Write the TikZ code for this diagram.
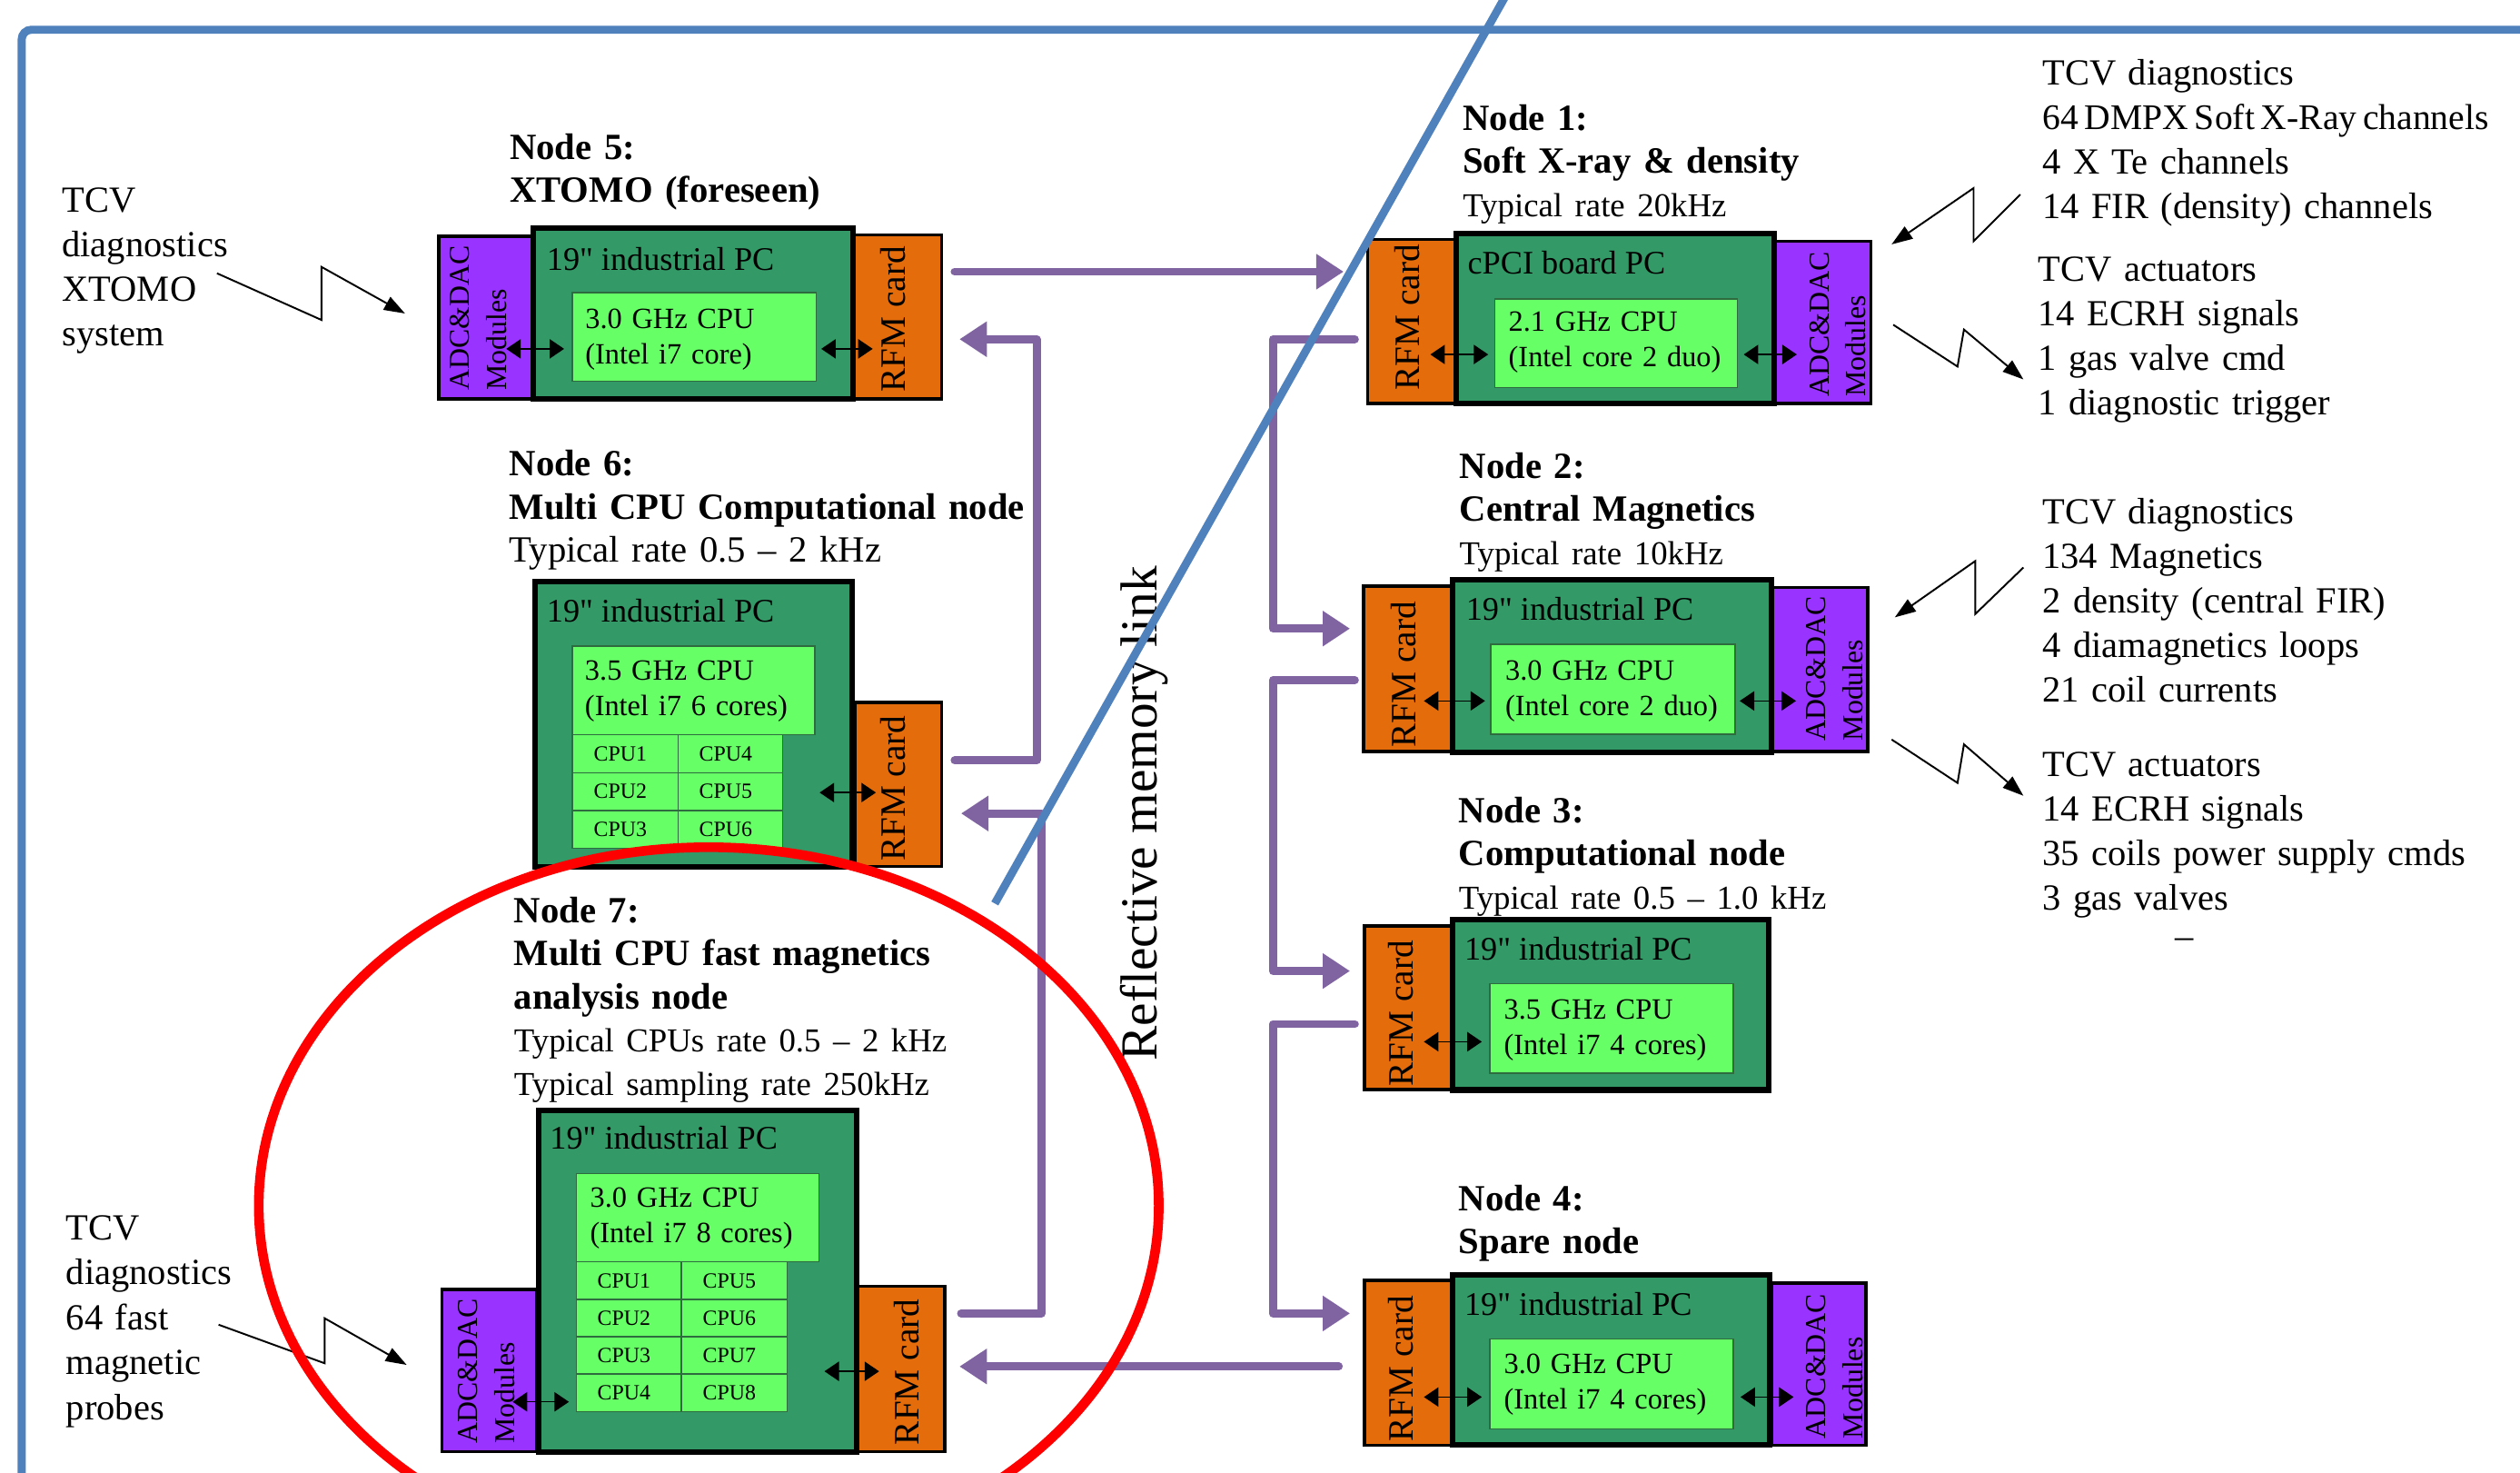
\documentclass[tikz,border=0pt]{standalone}
\usepackage{fontspec}
\setmainfont{Liberation Serif}[Ligatures=TeXOff]
\usetikzlibrary{arrows.meta,fit}
\definecolor{adcP}{HTML}{9933FF}
\definecolor{pcG}{HTML}{339966}
\definecolor{cpuG}{HTML}{66FF66}
\definecolor{rfmO}{HTML}{E46C0A}
\definecolor{busP}{HTML}{8064A2}
\definecolor{frameB}{HTML}{4F81BD}
\definecolor{cpuLine}{HTML}{2E6B3E}
\newcommand\smallfont{\fontsize{20.8}{26.8}\selectfont}
\begin{document}
\begin{tikzpicture}[x=1pt,y=-1pt,
  bx/.style={inner sep=0pt,outer sep=0pt},
  adc/.style={bx,draw=black,line width=2pt,fill=adcP},
  rfm/.style={bx,draw=black,line width=2pt,fill=rfmO},
  pc/.style={bx,draw=black,line width=3.4pt,fill=pcG},
  cpu/.style={bx,draw=cpuLine,line width=0.8pt,fill=cpuG},
  body/.style={inner sep=0pt,anchor=base west,align=left,text width=400pt,font=\fontsize{22.9}{27.7}\selectfont},
  ttl/.style={body,font=\fontsize{23}{26.8}\selectfont},
  pclbl/.style={inner sep=0pt,anchor=base west,font=\fontsize{20.5}{24}\selectfont},
  cpulbl/.style={inner sep=0pt,anchor=base west,align=left,text width=150pt,font=\fontsize{18.3}{22}\selectfont},
  celllbl/.style={inner sep=0pt,font=\fontsize{13.5}{16}\selectfont},
  rfmlbl/.style={inner sep=0pt,anchor=base west,rotate=90,font=\fontsize{22.2}{26}\selectfont},
  adclbl/.style={inner sep=0pt,anchor=base west,rotate=90,align=left,text width=100pt,font=\fontsize{18}{23}\selectfont},
  bus/.style={draw=busP,line width=5pt,line cap=round,line join=round},
  bush/.style={bus,-{Triangle[length=17pt,width=21pt]}},
  dbl/.style={black,line width=0.8pt,{Triangle[length=9pt,width=12pt]}-{Triangle[length=9pt,width=12pt]}},
  zig/.style={black,line width=1.1pt,-{Triangle[length=13pt,width=9pt]}}
]
\useasboundingbox (0,0) rectangle (1568,916);
\clip (0,0) rectangle (1568,916);
\fill[white] (0,0) rectangle (1568,916);

% ---------- boxes: side cards ----------
\node[adc, fit={(273,147) (332,248)}] (a5) {};
\node[rfm, fit={(531,146) (586,248)}] (r5) {};
\node[rfm, fit={(532,437) (586,539)}] (r6) {};
\node[adc, fit={(275,802) (334,903)}] (a7) {};
\node[rfm, fit={(534,800) (588,903)}] (r7) {};
\node[rfm, fit={(851,149) (906,251)}] (r1) {};
\node[adc, fit={(1104,150) (1164,251)}] (a1) {};
\node[rfm, fit={(848.5,364.6) (904,467.5)}] (r2) {};
\node[adc, fit={(1102,365.5) (1162,467.5)}] (a2) {};
\node[rfm, fit={(849,576) (904,677.7)}] (r3) {};
\node[rfm, fit={(849,796.5) (904,899)}] (r4) {};
\node[adc, fit={(1102.5,798) (1161,899)}] (a4) {};

% ---------- PC boxes ----------
\node[pc, fit={(332,142) (531,248)}] (g5) {};
\node[pc, fit={(333,362) (530,539)}] (g6) {};
\node[pc, fit={(335,691) (533,903)}] (g7) {};
\node[pc, fit={(906,145) (1104,251)}] (g1) {};
\node[pc, fit={(904,360.6) (1102,468)}] (g2) {};
\node[pc, fit={(904,572) (1100.6,678)}] (g3) {};
\node[pc, fit={(904,793) (1101,899)}] (g4) {};

% ---------- CPU boxes ----------
\node[cpu, fit={(356,182) (508,237)}] (c5) {};
\node[cpu, fit={(356,402) (507,457)}] (c6) {};
\node[cpu, fit={(358.5,730) (509.5,785)}] (c7) {};
\node[cpu, fit={(930,186) (1081,241)}] (c1) {};
\node[cpu, fit={(927.6,400.8) (1079.6,456.7)}] (c2) {};
\node[cpu, fit={(927,612) (1078.5,667.6)}] (c3) {};
\node[cpu, fit={(927,833) (1078.5,889)}] (c4) {};

% CPU grids
\foreach \r/\la/\lb in {0/CPU1/CPU4,1/CPU2/CPU5,2/CPU3/CPU6}{
  \node[cpu, fit={(356,{457+23.6*\r}) (422,{480.6+23.6*\r})}] (k6a\r) {};
  \node[cpu, fit={(422,{457+23.6*\r}) (487,{480.6+23.6*\r})}] (k6b\r) {};
  \node[celllbl] at ([xshift=-3pt]k6a\r.center) {\la};
  \node[celllbl] at ([xshift=-3pt]k6b\r.center) {\lb};
}
\foreach \r/\la/\lb in {0/CPU1/CPU5,1/CPU2/CPU6,2/CPU3/CPU7,3/CPU4/CPU8}{
  \node[cpu, fit={(358.5,{785+23.25*\r}) (424,{808.25+23.25*\r})}] (k7a\r) {};
  \node[cpu, fit={(424,{785+23.25*\r}) (489.7,{808.25+23.25*\r})}] (k7b\r) {};
  \node[celllbl] at ([xshift=-3pt]k7a\r.center) {\la};
  \node[celllbl] at ([xshift=-3pt]k7b\r.center) {\lb};
}

% ---------- labels in boxes ----------
\node[pclbl] (p5) at (340,168) {19" industrial PC};
\node[pclbl] (p6) at (340,387) {19" industrial PC};
\node[pclbl] (p7) at (342,715) {19" industrial PC};
\node[pclbl] (p1) at (913,170.6) {cPCI board PC};
\node[pclbl] (p2) at (912,386) {19" industrial PC};
\node[pclbl] (p3) at (911,597) {19" industrial PC};
\node[pclbl] (p4) at (911,818) {19" industrial PC};

\node[cpulbl] (u5) at (364,204.5) {3.0 GHz CPU\\(Intel i7 core)};
\node[cpulbl] (u6) at (363.8,423) {3.5 GHz CPU\\(Intel i7 6 cores)};
\node[cpulbl] (u7) at (367,751) {3.0 GHz CPU\\(Intel i7 8 cores)};
\node[cpulbl] (u1) at (938.5,206) {2.1 GHz CPU\\(Intel core 2 duo)};
\node[cpulbl] (u2) at (936.5,423) {3.0 GHz CPU\\(Intel core 2 duo)};
\node[cpulbl] (u3) at (935.6,634) {3.5 GHz CPU\\(Intel i7 4 cores)};
\node[cpulbl] (u4) at (935.6,854.4) {3.0 GHz CPU\\(Intel i7 4 cores)};

\node[rfmlbl] (rl5) at (563,244) {RFM card};
\node[rfmlbl] (rl6) at (563,536) {RFM card};
\node[rfmlbl] (rl7) at (572,899) {RFM card};
\node[rfmlbl] (rl1) at (883,243) {RFM card};
\node[rfmlbl] (rl2) at (881,465) {RFM card};
\node[rfmlbl] (rl3) at (879,676) {RFM card};
\node[rfmlbl] (rl4) at (879,897) {RFM card};

\node[adclbl] (al5) at (292,243) {ADC\&DAC\\Modules};
\node[adclbl] (al7) at (297,898) {ADC\&DAC\\Modules};
\node[adclbl] (al1) at (1138,247) {ADC\&DAC\\Modules};
\node[adclbl] (al2) at (1136,461) {ADC\&DAC\\Modules};
\node[adclbl] (al4) at (1136,895) {ADC\&DAC\\Modules};

% ---------- internal double arrows ----------
\coordinate (d5a) at (315,217);   \coordinate (d5b) at (351,217);
\coordinate (d5c) at (511,217);   \coordinate (d5d) at (543,217);
\coordinate (d1a) at (890,220.5); \coordinate (d1b) at (926,220.5);
\coordinate (d1c) at (1085,220.5);\coordinate (d1d) at (1118,220.5);
\coordinate (d6a) at (510,493);   \coordinate (d6b) at (545,493);
\coordinate (d7a) at (319,872);   \coordinate (d7b) at (354,872);
\coordinate (d7c) at (513,853);   \coordinate (d7d) at (547,853);
\coordinate (d2a) at (886,436);   \coordinate (d2b) at (924,436);
\coordinate (d2c) at (1082.5,436);\coordinate (d2d) at (1117.5,436);
\coordinate (d3a) at (886,648);   \coordinate (d3b) at (922,648);
\coordinate (d4a) at (886,869);   \coordinate (d4b) at (922,869);
\coordinate (d4c) at (1083,869);  \coordinate (d4d) at (1116,869);
\foreach \p/\q in {d5a/d5b,d5c/d5d,d1a/d1b,d1c/d1d,d6a/d6b,d7a/d7b,d7c/d7d,d2a/d2b,d2c/d2d,d3a/d3b,d4a/d4b,d4c/d4d}
  \draw[dbl] (\p) -- (\q);

% ---------- texts ----------
\node[ttl] (t5) at (317,99) {\bfseries Node 5:\\XTOMO (foreseen)};
\node[body] (x5) at (38.5,132) {TCV\\diagnostics\\XTOMO\\system};
\node[ttl] (t1) at (910,81) {{\bfseries Node 1:\\Soft X-ray \& density}\\{\smallfont Typical rate 20kHz}};
\node[body] (s1) at (1270.7,52.8) {TCV diagnostics\\{\fontsize{22.4}{27.7}\selectfont\spaceskip=0.17em\relax 64 DMPX Soft X-Ray channels}\\4 X Te channels\\14 FIR (density) channels};
\node[body] (s1b) at (1268,175) {TCV actuators\\14 ECRH signals\\1 gas valve cmd\\1 diagnostic trigger};
\node[ttl] (t6) at (316.7,296) {{\bfseries Node 6:\\Multi CPU Computational node}\\Typical rate 0.5 – 2 kHz};
\node[ttl] (t7) at (319.7,574) {{\bfseries Node 7:\\Multi CPU fast magnetics\\analysis node}\\{\smallfont Typical CPUs rate 0.5 – 2 kHz\\Typical sampling rate 250kHz}};
\node[body,font=\fontsize{22.9}{28}\selectfont] (x7) at (41,771) {TCV\\diagnostics\\64 fast\\magnetic\\probes};
\node[ttl] (t2) at (908,297.6) {{\bfseries Node 2:\\Central Magnetics}\\{\smallfont Typical rate 10kHz}};
\node[body] (s2) at (1270.7,325.6) {TCV diagnostics\\134 Magnetics\\2 density (central FIR)\\4 diamagnetics loops\\21 coil currents};
\node[body] (s2b) at (1270.7,483) {TCV actuators\\14 ECRH signals\\35 coils power supply cmds\\3 gas valves};
\node[body] (dsh) at (1353,590) {–};
\node[ttl] (t3) at (907.5,511.7) {{\bfseries Node 3:\\Computational node}\\{\smallfont Typical rate 0.5 – 1.0 kHz}};
\node[ttl] (t4) at (907.5,753) {\bfseries Node 4:\\Spare node};
\node[inner sep=0pt,anchor=base west,rotate=90,font=\fontsize{32.4}{38}\selectfont] (rml) at (720,660) {Reflective memory link};

% ---------- reflective memory bus ----------
\coordinate (b1s) at (594,169);  \coordinate (b1e) at (836,169);
\coordinate (b2s) at (594,473);  \coordinate (b2a) at (645,473); \coordinate (b2b) at (645,211); \coordinate (b2e) at (597,211);
\coordinate (b3s) at (598,817);  \coordinate (b3a) at (648,817); \coordinate (b3b) at (648,506); \coordinate (b3e) at (598,506);
\coordinate (b4s) at (833,850);  \coordinate (b4e) at (597,850);
\coordinate (b5s) at (843,211);  \coordinate (b5a) at (792,211); \coordinate (b5b) at (792,391); \coordinate (b5e) at (840,391);
\coordinate (b6s) at (843,423);  \coordinate (b6a) at (792,423); \coordinate (b6b) at (792,604); \coordinate (b6e) at (840,604);
\coordinate (b7s) at (843,637);  \coordinate (b7a) at (792,637); \coordinate (b7b) at (792,817); \coordinate (b7e) at (840,817);
\draw[bush] (b1s) -- (b1e);
\draw[bush] (b2s) -- (b2a) -- (b2b) -- (b2e);
\draw[bush] (b3s) -- (b3a) -- (b3b) -- (b3e);
\draw[bush] (b4s) -- (b4e);
\draw[bush] (b5s) -- (b5a) -- (b5b) -- (b5e);
\draw[bush] (b6s) -- (b6a) -- (b6b) -- (b6e);
\draw[bush] (b7s) -- (b7a) -- (b7b) -- (b7e);

% ---------- signal (lightning) arrows ----------
\coordinate (z5a) at (135,170); \coordinate (z5b) at (200,199); \coordinate (z5c) at (200,166); \coordinate (z5d) at (252,195);
\coordinate (z1a) at (1257,121); \coordinate (z1b) at (1228,150); \coordinate (z1c) at (1228,117); \coordinate (z1d) at (1177,152);
\coordinate (y1a) at (1178,202); \coordinate (y1b) at (1218,228); \coordinate (y1c) at (1222,205); \coordinate (y1d) at (1259,236);
\coordinate (z2a) at (1259,353); \coordinate (z2b) at (1229,382); \coordinate (z2c) at (1229,349); \coordinate (z2d) at (1179,384);
\coordinate (y2a) at (1177,460); \coordinate (y2b) at (1218,487); \coordinate (y2c) at (1222,463); \coordinate (y2d) at (1259,495);
\coordinate (z7a) at (136,824); \coordinate (z7b) at (202,848); \coordinate (z7c) at (202,820); \coordinate (z7d) at (253,849);
\draw[zig] (z5a) -- (z5b) -- (z5c) -- (z5d);
\draw[zig] (z1a) -- (z1b) -- (z1c) -- (z1d);
\draw[zig] (y1a) -- (y1b) -- (y1c) -- (y1d);
\draw[zig] (z2a) -- (z2b) -- (z2c) -- (z2d);
\draw[zig] (y2a) -- (y2b) -- (y2c) -- (y2d);
\draw[zig] (z7a) -- (z7b) -- (z7c) -- (z7d);

% ---------- overlays ----------
\draw[red, line width=6pt] (441,750) ellipse [x radius=280pt, y radius=223pt];
\draw[frameB, line width=5pt] (941,-10) -- (619,562);
\draw[frameB, line width=5pt, rounded corners=6pt] (13.5,930) -- (13.5,18.5) -- (1580,18.5);
\end{tikzpicture}
\end{document}
